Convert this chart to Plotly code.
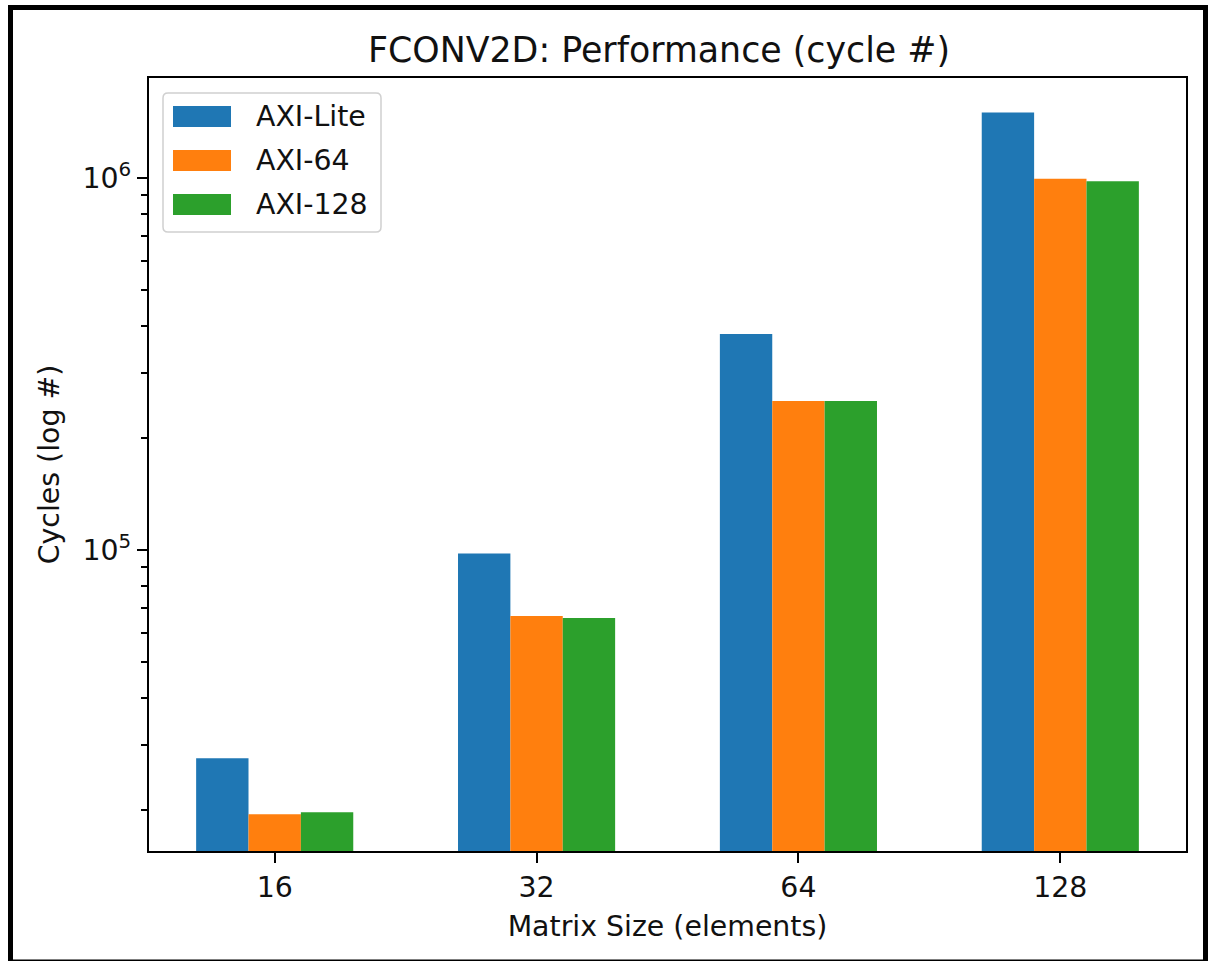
import plotly.graph_objects as go

# ---- data ----
categories = ["16", "32", "64", "128"]
series_names = ["AXI-Lite", "AXI-64", "AXI-128"]
axi_lite = [27600, 98000, 381000, 1500000]
axi_64 = [19500, 66500, 251600, 995000]
axi_128 = [19750, 65700, 251600, 980000]
series_colors = ["#1f77b4", "#ff7f0e", "#2ca02c"]
y_tick_values = [1e5, 1e6]
y_tick_labels = ["10<sup>5</sup>", "10<sup>6</sup>"]
title_text = "FCONV2D: Performance (cycle #)"
x_title = "Matrix Size (elements)"
y_title = "Cycles (log #)"

# ---- layout geometry (pixels) ----
W, H = 1209, 961
L, T, R, B = 149, 78, 1186, 851
FONT = "DejaVu Sans"


def px_x(x):
    return (x - L) / (R - L)


def px_y(y):
    return (B - y) / (B - T)


fig = go.Figure()
for name, vals, col in zip(series_names, [axi_lite, axi_64, axi_128], series_colors):
    fig.add_trace(go.Bar(x=categories, y=vals, name=name, marker_color=col,
                         marker_line_width=0, showlegend=False))

# minor ticks for log axis
minor_vals = [m * 10 ** e for e in range(4, 7) for m in range(2, 10)]

fig.update_layout(
    width=W, height=H,
    margin=dict(l=L, r=W - R, t=T, b=H - B, pad=0),
    paper_bgcolor="white", plot_bgcolor="white",
    barmode="group", bargap=0.4, bargroupgap=0,
    font=dict(family=FONT, size=28.4, color="#111111"),
    title=dict(text=title_text, x=px_x(659), xref="paper", xanchor="center",
               y=1 - 50 / H, yref="container", yanchor="middle",
               font=dict(family=FONT, size=34.8, color="#111111")),
    xaxis=dict(type="category", range=[-0.48, 3.48], showline=True, mirror=True,
               linecolor="black", linewidth=2.3, ticks="outside", ticklen=10,
               tickwidth=2.3, tickcolor="black", showgrid=False, zeroline=False,
               tickfont=dict(size=28.4),
               title=dict(text=x_title, font=dict(size=28.4), standoff=13)),
    yaxis=dict(type="log", range=[4.1915, 6.2686], showline=True, mirror=True,
               linecolor="black", linewidth=2.3, ticks="outside", ticklen=10,
               tickwidth=2.3, tickcolor="black", showgrid=False, zeroline=False,
               tickvals=y_tick_values, ticktext=y_tick_labels,
               tickfont=dict(size=28.4),
               minor=dict(ticks="outside", ticklen=6, tickwidth=1.8, tickcolor="black",
                          tickvals=minor_vals, showgrid=False),
               title=dict(text=y_title, font=dict(size=28.4), standoff=14)),
)

shapes = []
# outer black frame
shapes.append(dict(type="rect", xref="paper", yref="paper",
                   x0=px_x(10.5), x1=px_x(1205.5), y0=px_y(962), y1=px_y(7.5),
                   line=dict(color="black", width=5), fillcolor="rgba(0,0,0,0)", layer="above"))

# legend box (rounded)
lx0, lx1, ly0, ly1 = px_x(163), px_x(381), px_y(232), px_y(93)
rx, ry = 5 / (R - L), 5 / (B - T)
path = (f"M{lx0+rx},{ly1} L{lx1-rx},{ly1} Q{lx1},{ly1} {lx1},{ly1-ry} "
        f"L{lx1},{ly0+ry} Q{lx1},{ly0} {lx1-rx},{ly0} L{lx0+rx},{ly0} "
        f"Q{lx0},{ly0} {lx0},{ly0+ry} L{lx0},{ly1-ry} Q{lx0},{ly1} {lx0+rx},{ly1} Z")
shapes.append(dict(type="path", xref="paper", yref="paper", path=path,
                   line=dict(color="#d0d0d0", width=1.5),
                   fillcolor="rgba(255,255,255,0.8)", layer="above"))
annotations = []
row_centers = [116.5, 160.5, 204.5]
for name, col, yc in zip(series_names, series_colors, row_centers):
    shapes.append(dict(type="rect", xref="paper", yref="paper",
                       x0=px_x(173), x1=px_x(231), y0=px_y(yc + 10.5), y1=px_y(yc - 10.5),
                       line=dict(width=0), fillcolor=col, layer="above"))
    annotations.append(dict(text=name, xref="paper", yref="paper", x=px_x(254), y=px_y(yc),
                            xanchor="left", yanchor="middle", showarrow=False,
                            font=dict(family=FONT, size=28.4, color="#111111")))

fig.update_layout(shapes=shapes, annotations=annotations)
fig.write_html("out.html")
